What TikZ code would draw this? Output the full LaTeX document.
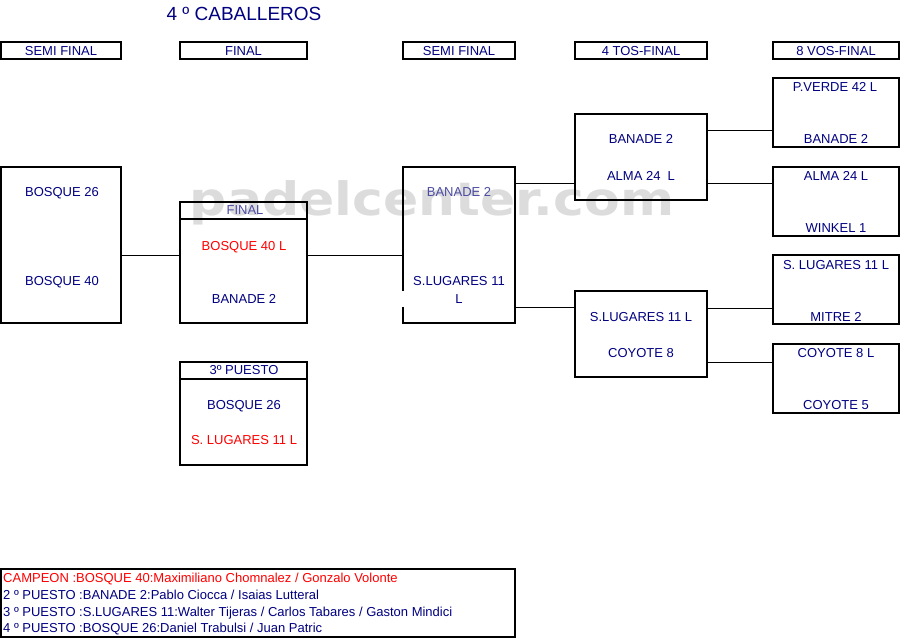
\documentclass[tikz,border=0pt]{standalone}
\usepackage{fontspec}
\setmainfont{Liberation Sans}
\newfontfamily\wmfont{DejaVu Sans}
\usetikzlibrary{positioning}
\definecolor{teamblue}{HTML}{000080}
\definecolor{fadeblue}{HTML}{4C4CA4}
\definecolor{wmgray}{HTML}{DCDCDC}
\begin{document}
\begin{tikzpicture}[x=1pt,y=-1pt,
box/.style 2 args={draw,line width=2pt,minimum width=#1,minimum height=#2,inner sep=0pt,outer sep=0pt},
team/.style={text=teamblue,font=\fontsize{13}{15}\selectfont,inner sep=0pt,text height=9.3pt,text depth=0pt},
lost/.style={team,text=red},
link/.style={line width=1pt}]
\useasboundingbox (0,0) rectangle (901,639);
\node[anchor=base,inner sep=0pt,text=wmgray,font=\wmfont\bfseries\fontsize{46}{46}\selectfont] (wm) at (432,215) {\scalebox{1.13}[1]{padelcenter.com}};
\node[team,font=\fontsize{19}{21}\selectfont,text height=13.6pt] (title) at (244,13.5) {4 º CABALLEROS};
\node[box={120}{17}] (hA) at (61,51) {};
\node[box={127}{17}] (hB) at (243.5,51) {};
\node[box={112}{17}] (hC) at (459,51) {};
\node[box={132}{17}] (hD) at (641,51) {};
\node[box={126}{17}] (hE) at (836,51) {};
\node[team] at (hA) {SEMI FINAL};
\node[team] at (hB) {FINAL};
\node[team] at (hC) {SEMI FINAL};
\node[team] at (hD) {4 TOS-FINAL};
\node[team] at (hE) {8 VOS-FINAL};
\node[box={120}{156.6}] (semiA) at (61,245) {};
\node[team] (sA1) at (62,192) {BOSQUE 26};
\node[team] (sA2) at (62,281) {BOSQUE 40};
\node[box={127}{121.5}] (final) at (243.5,262.7) {};
\draw[line width=2pt] (final.west |- 0,219) -- (final.east |- 0,219);
\node[team,text=fadeblue] (fT) at (245,210) {FINAL};
\node[lost] (f1) at (244,246) {BOSQUE 40 L};
\node[team] (f2) at (244,299) {BANADE 2};
\node[box={127}{102.7}] (third) at (243.5,413.3) {};
\draw[line width=2pt] (third.west |- 0,379) -- (third.east |- 0,379);
\node[team] (tT) at (244,370) {3º PUESTO};
\node[team] (t1) at (244,405) {BOSQUE 26};
\node[lost] (t2) at (244,440) {S. LUGARES 11 L};
\node[box={112}{156.6}] (semiC) at (459,245) {};
\fill[white] (401,291) rectangle (404.5,307);
\node[team,text=fadeblue] (sC1) at (459,192) {BANADE 2};
\node[team] (sC2) at (459,281) {S.LUGARES 11};
\node[team] (sC3) at (459,299) {L};
\node[box={132}{86.3}] (qD1) at (641,156.8) {};
\node[team] (q11) at (641,139) {BANADE 2};
\node[team] (q12) at (641,176) {ALMA 24~ L};
\node[box={132}{86.3}] (qD2) at (641,334.2) {};
\node[team] (q21) at (641,316.7) {S.LUGARES 11 L};
\node[team] (q22) at (641,352.7) {COYOTE 8};
\node[box={126}{69}] (e1) at (836,112.8) {};
\node[team] (e11) at (835,87) {P.VERDE 42 L};
\node[team] (e12) at (836,139) {BANADE 2};
\node[box={126}{68.7}] (e2) at (836,201.3) {};
\node[team] (e21) at (836,175.7) {ALMA 24 L};
\node[team] (e22) at (836,228) {WINKEL 1};
\node[box={126}{68.7}] (e3) at (836,289.7) {};
\node[team] (e31) at (836,264.7) {S. LUGARES 11 L};
\node[team] (e32) at (836,316.7) {MITRE 2};
\node[box={126}{69.3}] (e4) at (836,378.3) {};
\node[team] (e41) at (836,352.7) {COYOTE 8 L};
\node[team] (e42) at (836,405) {COYOTE 5};
\draw[link] (semiA.east |- 0,255) -- (final.west |- 0,255);
\draw[link] (final.east |- 0,255) -- (semiC.west |- 0,255);
\draw[link] (semiC.east |- 0,183) -- (qD1.west |- 0,183);
\draw[link] (semiC.east |- 0,307) -- (qD2.west |- 0,307);
\draw[link] (qD1.east |- 0,131) -- (e1.west |- 0,131);
\draw[link] (qD1.east |- 0,183) -- (e2.west |- 0,183);
\draw[link] (qD2.east |- 0,308) -- (e3.west |- 0,308);
\draw[link] (qD2.east |- 0,362) -- (e4.west |- 0,362);
\node[box={514}{67.4}] (legend) at (258,603) {};
\node[lost,anchor=west] (c1) at (3,578) {CAMPEON :BOSQUE 40:Maximiliano Chomnalez / Gonzalo Volonte};
\node[team,anchor=west] (c2) at (3,595) {2 º PUESTO :BANADE 2:Pablo Ciocca / Isaias Lutteral};
\node[team,anchor=west] (c3) at (3,611.5) {3 º PUESTO :S.LUGARES 11:Walter Tijeras / Carlos Tabares / Gaston Mindici};
\node[team,anchor=west] (c4) at (3,628) {4 º PUESTO :BOSQUE 26:Daniel Trabulsi / Juan Patric};
\end{tikzpicture}
\end{document}
